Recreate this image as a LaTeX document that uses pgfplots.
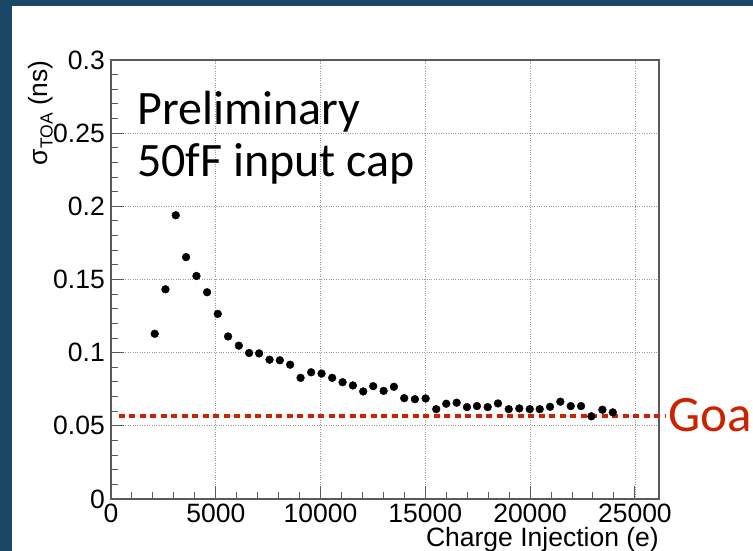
\documentclass[border=0pt]{standalone}
\usepackage{fontspec}
\setmainfont{Liberation Sans}
\newfontfamily\gill{Carlito}
\usepackage{pgfplots}
\pgfplotsset{compat=1.18}
\definecolor{slideblue}{RGB}{27,71,102}
\definecolor{goalred}{RGB}{204,34,0}
\definecolor{framegray}{RGB}{90,90,90}

\begin{document}
\begin{tikzpicture}
\useasboundingbox (0bp,0bp) rectangle (753bp,551bp);
\clip (0bp,0bp) rectangle (753bp,551bp);
\fill[slideblue] (0bp,0bp) rectangle (753bp,551bp);
\fill[white] (12bp,0bp) rectangle (753bp,545bp);
\begin{axis}[
  scale only axis, width=548bp, height=439bp,
  anchor=south west, at={(111bp,52bp)},
  xmin=0, xmax=26150, ymin=0, ymax=0.3,
  scaled x ticks=false, scaled y ticks=false,
  xtick={0,5000,10000,15000,20000,25000},
  xticklabels={0,5000,10000,15000,20000,25000},
  ytick={0,0.05,0.1,0.15,0.2,0.25,0.3},
  yticklabels={\raisebox{-7bp}{0},0.05,0.1,0.15,0.2,0.25,0.3},
  minor x tick num=4, minor y tick num=4,
  tick align=inside, xtick pos=bottom, ytick pos=left,
  major tick length=13bp, minor tick length=7bp,
  grid=major,
  major grid style={black!40, dotted, line width=0.7pt},
  axis line style={draw=framegray, line width=1.3pt},
  every tick/.style={framegray, line width=1pt},
  tick label style={font=\fontsize{26.5bp}{26.5bp}\selectfont},
  xticklabel style={inner sep=2pt, yshift=-3bp},
  yticklabel style={inner sep=2pt, xshift=-4bp},
  every axis y label/.style={at={(axis description cs:-0.128,1)}, rotate=90, anchor=east, inner sep=0pt, font=\fontsize{26.5bp}{26.5bp}\selectfont},
  every axis x label/.style={at={(axis description cs:1,0)}, anchor=base east, inner sep=0pt, yshift=-47.5bp, font=\fontsize{26.5bp}{26.5bp}\selectfont},
  ylabel={σ\raisebox{-0.35ex}{\fontsize{17.5bp}{17.5bp}\selectfont TOA} (ns)},
  xlabel={Charge Injection (e)},
  clip=false,
]
\addplot[only marks, mark=*, mark size=3.9bp, black] coordinates {
(2087,0.1129) (2598,0.1433) (3090,0.1939) (3582,0.1653) (4078,0.1524)
(4585,0.1413) (5096,0.1265) (5588,0.1111) (6099,0.1048) (6590,0.0998)
(7068,0.0995) (7565,0.0952) (8057,0.0948) (8549,0.0918) (9046,0.0828)
(9551,0.0866) (10048,0.0857) (10554,0.0828) (11051,0.0798) (11543,0.0776)
(12035,0.0735) (12513,0.0771) (13009,0.0739) (13501,0.0767) (13992,0.0689)
(14503,0.0682) (15014,0.0687) (15520,0.0614) (15998,0.0651) (16495,0.0658)
(16987,0.0628) (17464,0.0635) (17975,0.0628) (18467,0.0653) (18978,0.0614)
(19484,0.0619) (19981,0.0614) (20458,0.0614) (20950,0.0630) (21442,0.0665)
(21939,0.0635) (22431,0.0635) (22923,0.0565) (23448,0.0610) (23945,0.0592)
};
\addplot[goalred, line width=4.8bp, dash pattern=on 6bp off 4.5bp] coordinates {(368,0.0567) (26442,0.0567)};
\end{axis}
\node[anchor=base west, goalred, inner sep=0pt, font=\gill\fontsize{51bp}{51bp}\selectfont] at (668bp,119bp) {Goal};
\node[anchor=base west, inner sep=0pt, font=\gill\fontsize{48bp}{48bp}\selectfont] at (137bp,426bp) {Preliminary};
\node[anchor=base west, inner sep=0pt, font=\gill\fontsize{48bp}{48bp}\selectfont] at (137bp,374bp) {50fF input cap};
\end{tikzpicture}
\end{document}
